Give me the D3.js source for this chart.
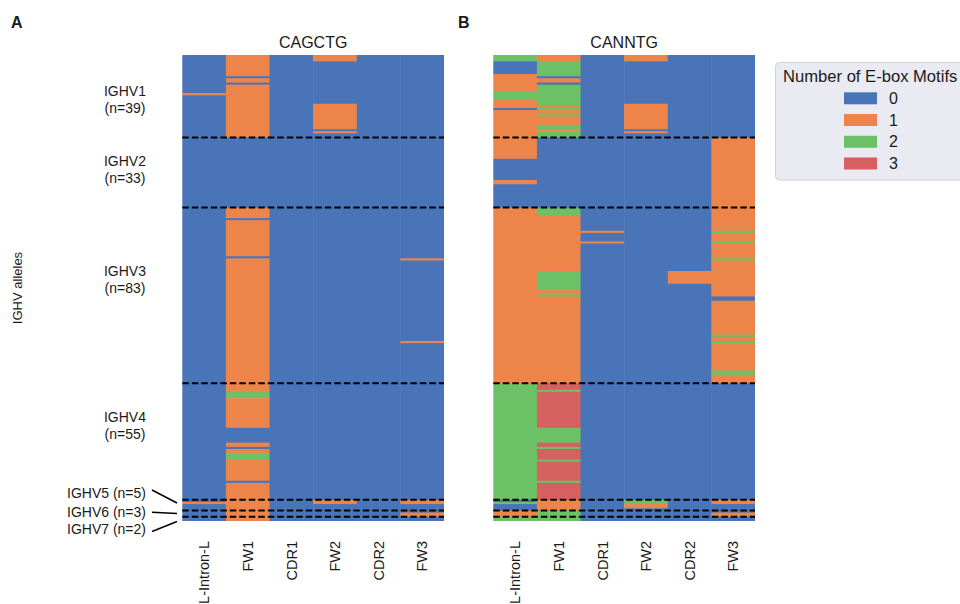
<!DOCTYPE html>
<html>
<head>
<meta charset="utf-8">
<script src="https://cdn.jsdelivr.net/npm/d3@7"></script>
<style>
  body { margin: 0; background: #fff; }
  text { font-family: "Liberation Sans", Arial, sans-serif; fill: #1a1a1a; }
</style>
</head>
<body>
<svg id="chart" width="960" height="604"></svg>
<script>
const regions = ['L-Intron-L', 'FW1', 'CDR1', 'FW2', 'CDR2', 'FW3']
const families = ['IGHV1', 'IGHV2', 'IGHV3', 'IGHV4', 'IGHV5', 'IGHV6', 'IGHV7']
const familySizes = [39, 33, 83, 55, 5, 3, 2]
const motifCounts = [0, 1, 2, 3]

// one list per region: runs of [motif count, number of alleles], top to bottom
const cagctg = [
  [[0, 18], [1, 1], [0, 192], [1, 1], [0, 8]],
  [[1, 10], [0, 1], [1, 2], [0, 1], [1, 25], [0, 33], [1, 5], [0, 1], [1, 17], [0, 1], [1, 63],
    [2, 3], [1, 14], [0, 7], [1, 2], [0, 1], [1, 2], [2, 3], [1, 10], [0, 1], [1, 18]],
  [[0, 220]],
  [[1, 3], [0, 20], [1, 12], [0, 1], [1, 1], [0, 173], [1, 2], [0, 8]],
  [[0, 220]],
  [[0, 96], [1, 1], [0, 38], [1, 1], [0, 74], [1, 2], [0, 4], [1, 2], [0, 2]]
]

const canntg = [
  [[2, 3], [0, 6], [1, 8], [2, 4], [1, 4], [0, 1], [1, 23], [0, 10], [1, 2], [0, 11], [1, 83],
    [2, 55], [0, 1], [2, 1], [0, 3], [1, 3], [2, 2]],
  [[1, 3], [2, 7], [0, 1], [1, 2], [0, 1], [2, 10], [1, 1], [2, 1], [1, 2], [2, 1], [1, 4], [2, 2],
    [1, 1], [2, 3], [0, 33], [2, 4], [1, 26], [2, 9], [1, 2], [2, 1], [1, 41], [3, 3], [2, 1],
    [3, 17], [2, 7], [3, 2], [2, 1], [3, 5], [2, 1], [3, 9], [2, 1], [3, 8], [1, 5], [2, 5]],
  [[0, 83], [1, 1], [0, 4], [1, 1], [0, 131]],
  [[1, 3], [0, 20], [1, 12], [0, 1], [1, 1], [0, 173], [2, 2], [1, 2], [0, 6]],
  [[0, 102], [1, 6], [0, 112]],
  [[0, 39], [1, 44], [2, 1], [1, 4], [2, 1], [1, 7], [2, 1], [1, 17], [0, 2], [1, 16], [2, 1],
    [1, 2], [2, 1], [1, 13], [2, 2], [1, 4], [0, 55], [1, 2], [0, 4], [1, 2], [0, 2]]
]

const svg = d3.select('#chart')
const total = d3.sum(familySizes)
const bounds = d3.cumsum(familySizes)

const y = d3.scaleLinear().domain([0, total]).range([55, 521])
const color = d3.scaleOrdinal()
  .domain(motifCounts)
  .range(['#4a74b8', '#ed854b', '#6cc066', '#d65f5f'])

function drawPanel (runs, x0, x1, title, letter, letterX) {
  const x = d3.scaleBand().domain(regions).range([x0, x1])
  const g = svg.append('g')

  regions.forEach((region, i) => {
    let start = 0
    const cells = runs[i].map(([value, count]) => {
      const cell = { value, start, end: start + count }
      start += count
      return cell
    })
    g.append('g').selectAll('rect')
      .data(cells)
      .join('rect')
      .attr('x', x(region))
      .attr('width', x.bandwidth() + (i < regions.length - 1 ? 0.5 : 0))
      .attr('y', d => y(d.start))
      .attr('height', d => y(d.end) - y(d.start) + (d.end < total ? 0.6 : 0))
      .attr('fill', d => color(d.value))
  })

  g.selectAll('line.sep')
    .data(bounds.slice(0, -1))
    .join('line')
    .attr('class', 'sep')
    .attr('x1', x0)
    .attr('x2', x1)
    .attr('y1', d => y(d))
    .attr('y2', d => y(d))
    .attr('stroke', '#000')
    .attr('stroke-width', 2)
    .attr('stroke-dasharray', '6.5,3')

  g.selectAll('text.tick')
    .data(regions)
    .join('text')
    .attr('class', 'tick')
    .attr('transform', d => `translate(${x(d) + x.bandwidth() / 2 + 5.2},541) rotate(-90)`)
    .attr('text-anchor', 'end')
    .attr('font-size', 14.5)
    .text(d => d)

  g.append('text')
    .attr('x', (x0 + x1) / 2)
    .attr('y', 48)
    .attr('text-anchor', 'middle')
    .attr('font-size', 16)
    .text(title)

  g.append('text')
    .attr('x', letterX)
    .attr('y', 28)
    .attr('font-size', 16)
    .attr('font-weight', 'bold')
    .text(letter)
}

drawPanel(cagctg, 182.3, 444, 'CAGCTG', 'A', 11)
drawPanel(canntg, 493.3, 755, 'CANNTG', 'B', 458)

// family labels
const bigLabelY = [99, 169, 279, 425]
families.slice(0, 4).forEach((f, i) => {
  const t = svg.append('text')
    .attr('text-anchor', 'middle')
    .attr('font-size', 14)
  t.append('tspan').attr('x', 125).attr('y', bigLabelY[i] - 3).text(f)
  t.append('tspan').attr('x', 125).attr('y', bigLabelY[i] + 14).text(`(n=${familySizes[i]})`)
})

const smallLabelY = [493, 511.7, 529]
const leaderEnd = [503, 513.5, 521.5]
families.slice(4).forEach((f, i) => {
  svg.append('text')
    .attr('x', 146)
    .attr('y', smallLabelY[i] + 5)
    .attr('text-anchor', 'end')
    .attr('font-size', 14)
    .text(`${f} (n=${familySizes[i + 4]})`)
  svg.append('line')
    .attr('x1', 152)
    .attr('y1', smallLabelY[i] + (i === 0 ? -3 : i === 2 ? 2.5 : 0.5))
    .attr('x2', 177)
    .attr('y2', leaderEnd[i])
    .attr('stroke', '#000')
    .attr('stroke-width', 1.5)
})

svg.append('text')
  .attr('transform', 'translate(22,288) rotate(-90)')
  .attr('text-anchor', 'middle')
  .attr('font-size', 13)
  .text('IGHV alleles')

// legend
const legend = svg.append('g')
legend.append('rect')
  .attr('x', 775.5)
  .attr('y', 62.5)
  .attr('width', 200)
  .attr('height', 117.5)
  .attr('rx', 4)
  .attr('fill', '#eaeaf2')
  .attr('stroke', '#cfcfd6')

legend.append('text')
  .attr('x', 783)
  .attr('y', 82)
  .attr('font-size', 16.6)
  .text('Number of E-box Motifs')

const ly = d3.scalePoint().domain(motifCounts).range([98.3, 163.5])
legend.selectAll('rect.sw')
  .data(motifCounts)
  .join('rect')
  .attr('class', 'sw')
  .attr('x', 844)
  .attr('y', d => ly(d) - 6)
  .attr('width', 33)
  .attr('height', 12)
  .attr('fill', d => color(d))

legend.selectAll('text.lab')
  .data(motifCounts)
  .join('text')
  .attr('class', 'lab')
  .attr('x', 889)
  .attr('y', d => ly(d) + 5.5)
  .attr('font-size', 16)
  .text(d => d)
</script>
</body>
</html>
